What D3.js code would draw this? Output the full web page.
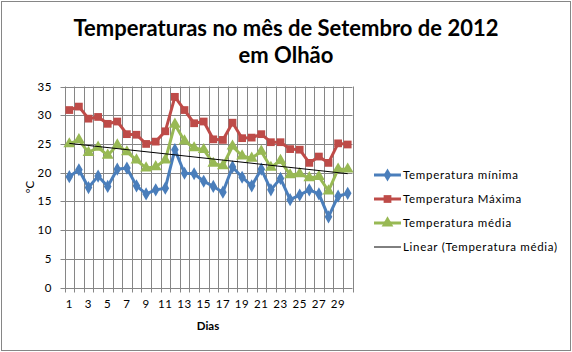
<!DOCTYPE html>
<html><head><meta charset="utf-8">
<script src="https://cdn.jsdelivr.net/npm/d3@7"></script>
<style>body{margin:0;background:#fff}svg{display:block}text{font-family:Lato,"Open Sans",sans-serif}</style>
</head><body>
<script>
const days = d3.range(1, 31);
const tickLabels = ["1","3","5","7","9","11","13","15","17","19","21","23","25","27","29"];
const yTicks = [0,5,10,15,20,25,30,35];
const tMin = [19.3,20.5,17.4,19.4,17.6,20.6,20.8,17.7,16.3,17.0,17.3,24.0,19.9,19.8,18.5,17.6,16.6,21.0,19.2,17.7,20.6,17.0,19.0,15.3,16.1,17.0,16.3,12.3,15.9,16.4];
const tMax = [30.9,31.5,29.4,29.7,28.5,28.9,26.7,26.6,25.0,25.4,27.2,33.2,30.9,28.6,28.9,25.8,25.7,28.7,26.0,26.1,26.7,25.3,25.3,24.1,24.0,21.7,22.8,21.7,25.1,24.9];
const tMed = [25.0,25.7,23.5,24.4,23.0,24.8,23.6,22.2,20.8,21.0,22.2,28.4,25.5,24.3,24.0,21.6,21.2,24.6,22.9,22.5,23.7,20.9,22.1,19.6,19.8,19.1,19.3,16.8,20.6,20.6];
const seriesNames = ["Temperatura mínima","Temperatura Máxima","Temperatura média","Linear (Temperatura média)"];
const colors = ["#4a7ebb","#be4b48","#98b954","#000000"];

const W = 572, H = 352;
const svg = d3.select("body").append("svg").attr("width", W).attr("height", H);
svg.append("rect").attr("x",1.5).attr("y",1.5).attr("width",W-3).attr("height",H-3)
  .attr("fill","#fff").attr("stroke","#868686").attr("stroke-width",1);

const L = 64.5, R = 352.5, T = 86.5, B = 287.5;
const xb = d3.scaleBand().domain(days).range([L, R]);
const x = d => xb(d) + xb.bandwidth()/2;
const y = d3.scaleLinear().domain([0,35]).range([B, T]);

// grid
const g = svg.append("g");
yTicks.forEach(v => {
  g.append("line").attr("x1", L-4).attr("x2", R).attr("y1", Math.round(y(v))+0.5).attr("y2", Math.round(y(v))+0.5)
   .attr("stroke","#868686").attr("stroke-width",1);
});
days.concat([31]).forEach((d,i) => {
  const xx = Math.round(L + i*xb.bandwidth()) + 0.5;
  g.append("line").attr("x1", xx).attr("x2", xx).attr("y1", T).attr("y2", B+5)
   .attr("stroke","#868686").attr("stroke-width",1);
});

// y labels
yTicks.forEach(v => {
  svg.append("text").attr("x", 52).attr("y", y(v)+4).attr("text-anchor","end")
    .attr("font-size", 11.5).attr("letter-spacing", 0.6).attr("fill","#000").text(v);
});
// x labels
tickLabels.forEach(t => {
  svg.append("text").attr("x", x(+t)).attr("y", 308).attr("text-anchor","middle")
    .attr("font-size", 11.5).attr("letter-spacing", 0.6).attr("fill","#000").text(t);
});
svg.append("text").attr("x", 208).attr("y", 330).attr("text-anchor","middle")
  .attr("font-size", 11.5).attr("font-weight","bold").text("Dias");
svg.append("text").attr("transform","translate(34,187) rotate(-90)").attr("text-anchor","middle")
  .attr("font-size", 11.5).text("ºC");

// title
svg.append("text").attr("x", 286).attr("y", 36).attr("text-anchor","middle")
  .attr("font-size", 22).attr("font-weight","bold").text("Temperaturas no mês de Setembro de 2012");
svg.append("text").attr("x", 286).attr("y", 63).attr("text-anchor","middle")
  .attr("font-size", 22).attr("font-weight","bold").text("em Olhão");

// trend line from regression of tMed
const mx = d3.mean(days), my = d3.mean(tMed);
const slope = d3.sum(days, (d,i) => (d-mx)*(tMed[i]-my)) / d3.sum(days, d => (d-mx)*(d-mx));
const icpt = my - slope*mx;

const line = d3.line().x((d,i) => x(days[i])).y(d => y(d));
const data = [tMin, tMax, tMed];
const symbols = [d3.symbolDiamond, d3.symbolSquare, d3.symbolTriangle];
const sizes = [50, 60, 60];
data.forEach((s, k) => {
  svg.append("path").attr("d", line(s)).attr("fill","none").attr("stroke", colors[k]).attr("stroke-width", 3)
    .attr("stroke-linejoin","round");
  s.forEach((v,i) => {
    svg.append("path").attr("d", d3.symbol(symbols[k], sizes[k])())
      .attr("transform", `translate(${x(days[i])},${y(v)})`).attr("fill", colors[k]);
  });
});
svg.append("line").attr("x1", x(1)).attr("x2", x(30)).attr("y1", y(icpt+slope*1)).attr("y2", y(icpt+slope*30))
  .attr("stroke","#000").attr("stroke-width",1);

// legend
const ly = [175, 199, 223, 247];
seriesNames.forEach((name, k) => {
  const gg = svg.append("g");
  gg.append("line").attr("x1", 374).attr("x2", 401).attr("y1", ly[k]).attr("y2", ly[k])
    .attr("stroke", colors[k]).attr("stroke-width", k<3 ? 3 : 1);
  if (k < 3) gg.append("path").attr("d", d3.symbol(symbols[k], sizes[k])()).attr("transform", `translate(387.5,${ly[k]})`).attr("fill", colors[k]);
  gg.append("text").attr("x", 403).attr("y", ly[k]+4).attr("font-size", 11.5).attr("letter-spacing", 0.7).text(name);
});
</script>
</body></html>
